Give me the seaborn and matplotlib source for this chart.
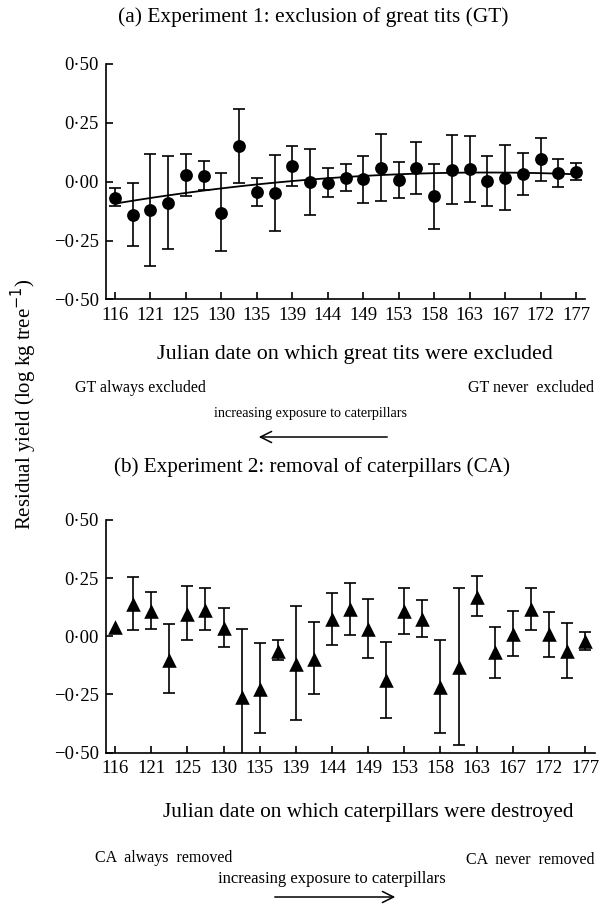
import numpy as np
import pandas as pd
import matplotlib
matplotlib.use("Agg")
import matplotlib.pyplot as plt
import seaborn as sns

# ---------------- data ----------------
dates = [116, 118, 121, 123, 125, 128, 130, 132, 135, 137, 139, 142, 144, 146,
         149, 151, 153, 156, 158, 160, 163, 165, 167, 170, 172, 174, 177]
tick_labels = ["116", "121", "125", "130", "135", "139", "144", "149", "153",
               "158", "163", "167", "172", "177"]
yticks = [-0.50, -0.25, 0.0, 0.25, 0.50]

# Experiment 1 (great tits excluded)
gt_mean = [-0.067, -0.140, -0.122, -0.090, 0.029, 0.024, -0.131, 0.152, -0.045,
           -0.048, 0.067, 0.000, -0.004, 0.018, 0.011, 0.060, 0.008, 0.058,
           -0.062, 0.050, 0.056, 0.004, 0.015, 0.032, 0.095, 0.037, 0.042]
gt_hi = [-0.028, -0.007, 0.119, 0.108, 0.119, 0.087, 0.037, 0.310, 0.015,
         0.112, 0.152, 0.138, 0.058, 0.074, 0.110, 0.201, 0.084, 0.167,
         0.077, 0.198, 0.194, 0.108, 0.154, 0.122, 0.187, 0.096, 0.081]
gt_lo = [-0.105, -0.274, -0.358, -0.287, -0.059, -0.035, -0.296, -0.007, -0.101,
         -0.211, -0.017, -0.140, -0.066, -0.038, -0.090, -0.080, -0.069, -0.052,
         -0.199, -0.094, -0.084, -0.101, -0.121, -0.056, 0.004, -0.021, 0.007]

# Experiment 2 (caterpillars removed)
ca_mean = [0.040, 0.137, 0.107, -0.100, 0.097, 0.114, 0.036, -0.260, -0.229,
           -0.063, -0.121, -0.099, 0.076, 0.119, 0.033, -0.189, 0.107, 0.076,
           -0.217, -0.131, 0.169, -0.067, 0.011, 0.119, 0.009, -0.063, -0.021]
ca_hi = [0.040, 0.254, 0.189, 0.054, 0.217, 0.207, 0.121, 0.031, -0.030,
         -0.016, 0.129, 0.061, 0.187, 0.229, 0.159, -0.024, 0.207, 0.157,
         -0.014, 0.207, 0.257, 0.040, 0.109, 0.206, 0.104, 0.057, 0.019]
ca_lo = [0.040, 0.026, 0.031, -0.243, -0.017, 0.026, -0.046, -0.600, -0.417,
         -0.103, -0.361, -0.250, -0.037, 0.004, -0.093, -0.350, 0.009, -0.003,
         -0.417, -0.467, 0.086, -0.179, -0.083, 0.026, -0.089, -0.179, -0.057]

# ---------------- style ----------------
sns.set_theme(style="ticks")
plt.rcParams["font.family"] = ["Liberation Serif", "DejaVu Serif"]

W, H = 600, 908
fig = plt.figure(figsize=(W / 100, H / 100), dpi=100)


def px_axes(left, right, top, bottom):
    return fig.add_axes([left / W, 1 - bottom / H, (right - left) / W, (bottom - top) / H])


def fmt_y(v):
    s = f"{abs(v):.2f}".replace(".", "\u00b7")
    return ("\u2212" if v < 0 else "") + s


def style_axes(ax, xmax):
    ax.set_xlim(-0.5, xmax)
    ax.set_ylim(-0.5, 0.5)
    ax.set_xticks(range(0, len(dates), 2))
    ax.set_xticklabels(tick_labels)
    ax.set_yticks(yticks)
    ax.set_yticklabels([fmt_y(v) for v in yticks])
    sns.despine(ax=ax)
    for s in ("left", "bottom"):
        ax.spines[s].set_linewidth(1.2)
        ax.spines[s].set_color("black")
    ax.tick_params(axis="both", direction="in", length=5, width=1.2,
                   colors="black", labelsize=13.5)
    ax.tick_params(axis="x", pad=5.5)
    ax.tick_params(axis="y", pad=5)
    ax.set_xlabel("")
    ax.set_ylabel("")
    ax.grid(False)


idx = np.arange(len(dates))
df_a = pd.DataFrame({"idx": idx, "y": gt_mean, "hi": gt_hi, "lo": gt_lo})
df_b = pd.DataFrame({"idx": idx, "y": ca_mean, "hi": ca_hi, "lo": ca_lo})

# ---- panel (a) ----
ax1 = px_axes(106, 585, 64, 299.5)
ax1.errorbar(df_a["idx"], df_a["y"], yerr=[df_a["y"] - df_a["lo"], df_a["hi"] - df_a["y"]],
             fmt="none", ecolor="black", elinewidth=1.2, capsize=4.5, capthick=1.2, zorder=2)
sns.regplot(data=df_a, x="idx", y="y", order=2, scatter=False, ci=None, ax=ax1,
            line_kws={"color": "black", "lw": 1.3, "zorder": 3})
sns.scatterplot(data=df_a, x="idx", y="y", ax=ax1, marker="o", s=85, color="black",
                edgecolor="black", linewidth=0, zorder=4)
style_axes(ax1, 26.5)

# ---- panel (b) ----
ax2 = px_axes(106, 595, 520, 752.5)
m = df_b["hi"] > df_b["lo"]
ax2.errorbar(df_b.loc[m, "idx"], df_b.loc[m, "y"],
             yerr=[df_b.loc[m, "y"] - df_b.loc[m, "lo"], df_b.loc[m, "hi"] - df_b.loc[m, "y"]],
             fmt="none", ecolor="black", elinewidth=1.2, capsize=4.5, capthick=1.2, zorder=2)
sns.scatterplot(data=df_b, x="idx", y="y", ax=ax2, marker="^", s=110, color="black",
                edgecolor="black", linewidth=0, zorder=4)
style_axes(ax2, 26.55)


# ---------------- texts ----------------
def ftext(x, y, s, size, **kw):
    fig.text(x / W, 1 - y / H, s, fontsize=size, ha="center", va="center",
             color="black", **kw)


ftext(313, 17, "(a) Experiment 1: exclusion of great tits (GT)", 15.4)
ftext(355, 355, "Julian date on which great tits were excluded", 15.8)
ftext(140, 388, "GT always excluded", 11.5)
ftext(531, 388, "GT never  excluded", 11.5)
ftext(310, 414, "increasing exposure to caterpillars", 10.2)
fig.add_artist(matplotlib.patches.FancyArrowPatch(
    (390 / W, 1 - 437 / H), (256 / W, 1 - 437 / H), transform=fig.transFigure,
    arrowstyle="->,head_length=8,head_width=4", lw=1.1, color="black"))

ftext(312, 467, "(b) Experiment 2: removal of caterpillars (CA)", 15.2)
ftext(368, 812, "Julian date on which caterpillars were destroyed", 15.3)
ftext(164, 858, "CA  always  removed", 11.5)
ftext(530, 860, "CA  never  removed", 11.5)
ftext(332, 879, "increasing exposure to caterpillars", 12)
fig.add_artist(matplotlib.patches.FancyArrowPatch(
    (272 / W, 1 - 897 / H), (398 / W, 1 - 897 / H), transform=fig.transFigure,
    arrowstyle="->,head_length=8,head_width=4", lw=1.1, color="black"))

ftext(24, 404, r"Residual yield (log kg tree$^{-1}$)", 15, rotation=90)

fig.savefig("out.png", dpi=100)
